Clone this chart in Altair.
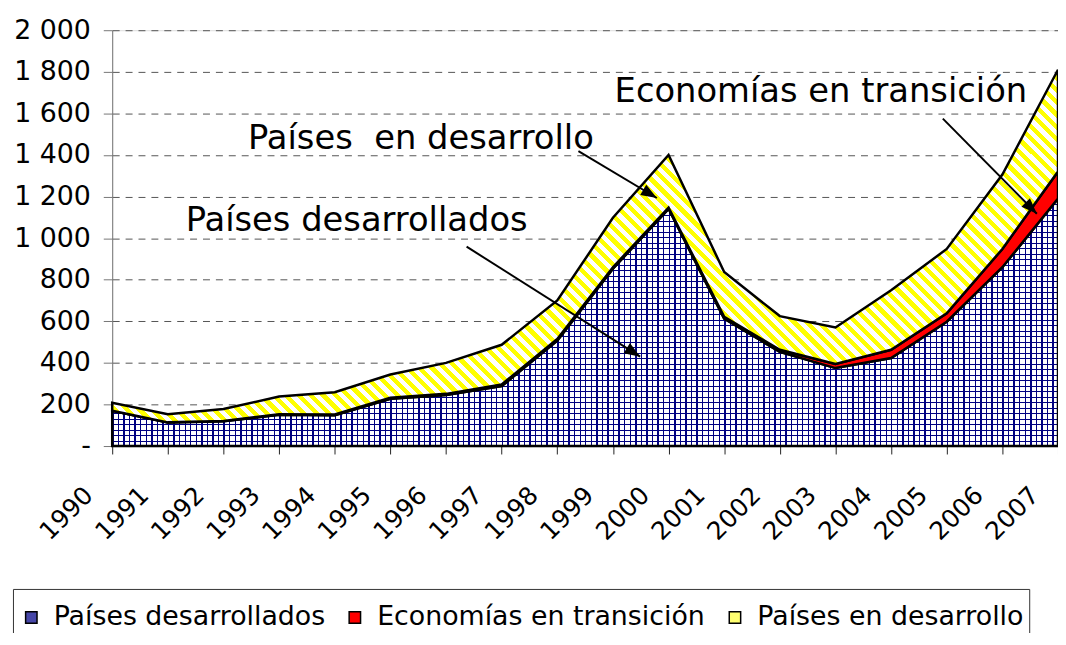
import altair as alt
import pandas as pd

# ---------------- data ----------------
years = list(range(1990, 2008))
desarrollados = [169, 113, 119, 150, 148, 227, 245, 288, 507, 853, 1141, 613, 453, 375, 423, 598, 860, 1190]
transicion = [1, 1, 2, 3, 4, 5, 6, 8, 8, 7, 6, 9, 10, 20, 40, 40, 88, 130]
en_desarrollo = [38, 39, 57, 85, 107, 112, 149, 191, 185, 238, 253, 215, 162, 175, 286, 310, 358, 490]

series_names = ["Países desarrollados", "Economías en transición", "Países en desarrollo"]
legend_colors = ["#4747a8", "#ff0000", "#ffff70"]
y_ticks = [0, 200, 400, 600, 800, 1000, 1200, 1400, 1600, 1800, 2000]

ann_text = ["Países desarrollados", "Países\u00a0 en desarrollo", "Economías en transición"]
ann_year = [1991.32, 1992.44, 1999.03]
ann_value = [1036, 1427, 1656]

arrow_year_from = [1996.37, 1998.38, 2004.93]
arrow_value_from = [959, 1418, 1575]
arrow_year_to = [1999.49, 1999.79, 2006.62]
arrow_value_to = [430, 1193, 1117]
arrow_angle = [32.4, 30.7, 45.3]

# ---------------- tables ----------------
df = pd.DataFrame({"year": years, "dev": desarrollados, "tr": transicion, "dvp": en_desarrollo})
df["zero"] = 0
df["c1"] = df["dev"]
df["c2"] = df["dev"] + df["tr"]
df["c3"] = df["c2"] + df["dvp"]

ann = pd.DataFrame({"text": ann_text, "year": ann_year, "value": ann_value})
arrows = pd.DataFrame({"x": arrow_year_from, "y": arrow_value_from,
                       "x2": arrow_year_to, "y2": arrow_value_to, "ang": arrow_angle})
leg = pd.DataFrame({"serie": series_names, "year": [1990] * 3, "value": [0] * 3})

# ---------------- layout ----------------
W, H = 953, 419
FONT = "DejaVu Sans"
px_per_unit = H / 2000.0


def stripes(n, c1, c2, frac):
    stops = []
    p = 1.0 / n
    for k in range(n):
        a = k * p
        b = a + p * frac
        e = min((k + 1) * p, 1.0)
        stops += [alt.GradientStop(color=c1, offset=round(a, 6)),
                  alt.GradientStop(color=c1, offset=round(b, 6)),
                  alt.GradientStop(color=c2, offset=round(b, 6)),
                  alt.GradientStop(color=c2, offset=round(e, 6))]
    return stops


# blue grid: vertical lines + horizontal lines
grad_v = alt.Gradient(gradient="linear", x1=0, y1=0, x2=1, y2=0,
                      stops=stripes(170, "#000080", "#ffffff", 0.25))
dev_h = max(desarrollados) * px_per_unit
grad_h = alt.Gradient(gradient="linear", x1=0, y1=0, x2=0, y2=1,
                      stops=stripes(int(round(dev_h / 5.6)), "#000080", "rgba(255,255,255,0)", 0.25))

# yellow diagonal stripes at 45 degrees, covering the whole bounding box
top_px = max(df["c3"]) * px_per_unit
low_px = min(df["c2"]) * px_per_unit
bh = top_px - low_px
r = bh / W
s = (1 + r) / (1 + r * r)
n_y = int(round(((W + bh) / 2 ** 0.5) / (12.5 / 2 ** 0.5)))
grad_y = alt.Gradient(gradient="linear", x1=0, y1=1, x2=round(s, 4), y2=round(1 - s * r, 4),
                      stops=stripes(n_y, "#ffff00", "#ffffff", 0.5))

xscale = alt.Scale(domain=[1990, 2007], nice=False, zero=False)
yscale = alt.Scale(domain=[0, 2000], nice=False)

x_axis = alt.Axis(values=years, format="d", title=None, labelAngle=-45, labelAlign="right",
                  labelBaseline="middle", labelFont=FONT, labelFontSize=25, labelColor="black",
                  labelOverlap=False, labelFlush=False, labelOffset=-24, labelPadding=37,
                  tickSize=8, tickColor="#222", domainColor="#222", grid=False)
y_axis = alt.Axis(values=y_ticks, title=None, labelFont=FONT, labelFontSize=27, labelColor="black",
                  labelExpr="datum.value == 0 ? '-' : replace(format(datum.value, ','), ',', ' ')",
                  labelPadding=13, tickSize=9, tickColor="#777", domainColor="#777",
                  grid=True, gridColor="#555", gridDash=[7, 6], gridWidth=1, labelFlush=False)

X = alt.X("year:Q", scale=xscale, axis=x_axis)
base = alt.Chart(df)

blue_v = base.mark_area(fill=grad_v).encode(
    x=X, y=alt.Y("zero:Q", scale=yscale, axis=y_axis), y2="c1:Q")
blue_h = base.mark_area(fill=grad_h, stroke="black", strokeWidth=2.5).encode(
    x=X, y=alt.Y("zero:Q"), y2="c1:Q")
red = base.mark_area(fill="#ff0000", stroke="black", strokeWidth=2.5).encode(
    x=X, y=alt.Y("c1:Q"), y2="c2:Q")
yellow = base.mark_area(fill=grad_y, stroke="black", strokeWidth=2.5).encode(
    x=X, y=alt.Y("c2:Q"), y2="c3:Q")

legend_layer = alt.Chart(leg).mark_square(opacity=0).encode(
    x=alt.X("year:Q"), y=alt.Y("value:Q"),
    color=alt.Color("serie:N", sort=series_names,
                    scale=alt.Scale(domain=series_names, range=legend_colors),
                    legend=alt.Legend(orient="none", legendX=-100, legendY=563, direction="horizontal",
                                      title=" ", titleFontSize=1, titlePadding=9,
                                      labelFont=FONT, labelFontSize=27, labelColor="black",
                                      symbolType="square", symbolSize=132, symbolStrokeColor="black",
                                      symbolStrokeWidth=1.5, symbolOpacity=1, strokeColor="#333",
                                      fillColor="white", padding=5, columnPadding=16, labelOffset=9,
                                      labelLimit=0)))

arrow_lines = alt.Chart(arrows).mark_rule(color="black", strokeWidth=2).encode(
    x="x:Q", y="y:Q", x2="x2:Q", y2="y2:Q")
arrow_heads = alt.Chart(arrows).mark_point(
    shape="M0,0L-2,-0.75L-2,0.75Z", filled=True, color="black", opacity=1, size=256).encode(
    x="x2:Q", y="y2:Q", angle=alt.Angle("ang:Q", scale=None))

labels = alt.Chart(ann).mark_text(align="left", baseline="alphabetic", font=FONT, fontSize=34,
                                  color="black").encode(x="year:Q", y="value:Q", text="text:N")

chart = alt.layer(blue_v, blue_h, red, yellow, arrow_lines, arrow_heads, labels, legend_layer).properties(
    width=W, height=H, autosize="none",
    padding={"left": 105, "top": 20, "right": 0, "bottom": 186},
).configure_view(stroke=None).configure(background="white")

chart.save("out.html", embed_options={"renderer": "svg", "actions": False})
